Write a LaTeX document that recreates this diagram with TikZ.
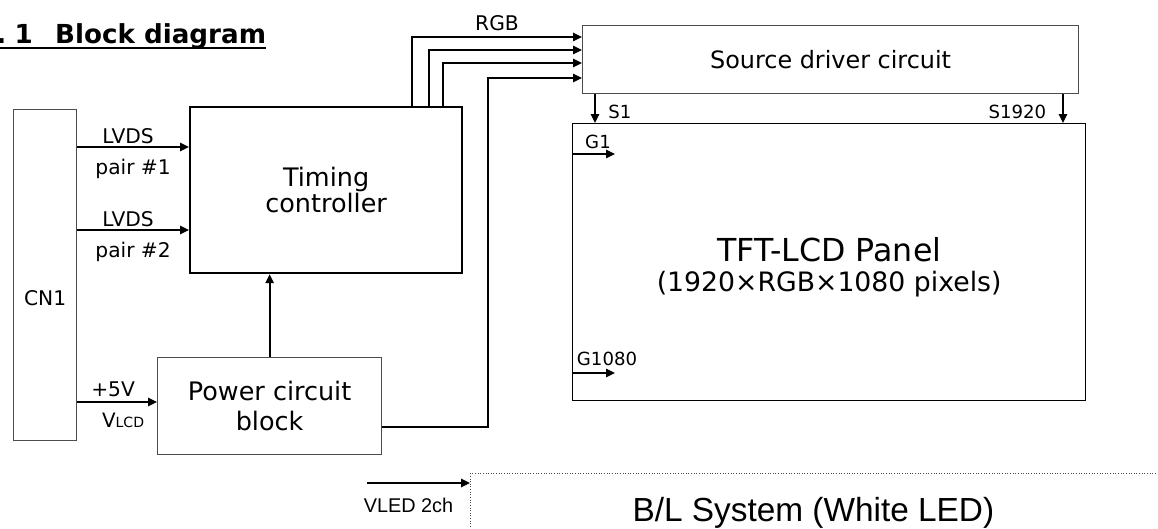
\documentclass[tikz,border=0pt]{standalone}
\usepackage{fontspec}
\setmainfont{DejaVu Sans}
\newfontfamily\narrowfont{Liberation Sans}
\usetikzlibrary{arrows.meta}

\begin{document}
\begin{tikzpicture}[x=0.02cm, y=-0.02cm,
		box/.style={draw=black!70, line width=0.7pt, inner sep=0pt, anchor=north west},
		sig/.style={line width=1.1pt, -{Triangle[length=5pt, width=4.6pt]}},
		lbl/.style={font=\fontsize{11.5}{13}\selectfont, inner sep=0pt},
		tag/.style={font=\fontsize{10.3}{12}\selectfont, inner sep=0pt}]
			%%%%% START %%%%%
			
			\useasboundingbox (0,0) rectangle (1158,528);
			\clip (0,0) rectangle (1158,528);
			
			\node[anchor=base west, inner sep=0pt, font=\fontsize{14.9}{17}\selectfont\bfseries] (title) at (-4,43) {.\hspace{0.32em}1\hspace{0.85em}Block diagram};
			\draw[line width=1.2pt] ([yshift=-2.8pt]title.base west) -- ([yshift=-2.8pt]title.base east);
			
			\node[box, minimum width=1.26cm, minimum height=6.62cm, label={[lbl, yshift=-0.46cm]center:CN1}] (cn1) at (13,109) {};
			
			\node[box, draw=black, line width=1.3pt, minimum width=5.44cm, minimum height=3.32cm, align=center, font=\fontsize{14.5}{13}\selectfont] (tcon) at (189,106) {Timing\\controller};
			
			\node[box, minimum width=4.48cm, minimum height=1.94cm, align=center, font=\fontsize{14.5}{17}\selectfont] (pwr) at (157,357) {Power circuit\\block};
			
			\node[box, minimum width=9.92cm, minimum height=1.36cm, font=\fontsize{13.6}{16}\selectfont] (src) at (582,25) {Source driver circuit};
			
			\node[box, draw=black, line width=0.8pt, minimum width=10.26cm, minimum height=5.54cm,
				label={[align=center, font=\fontsize{18}{17}\selectfont, yshift=-0.11cm]center:TFT-LCD Panel\\{\fontsize{15.2}{17}\selectfont (1920×RGB×1080 pixels)}}] (pnl) at (572,123) {};
			
			\node[box, line width=0.5pt, densely dotted, minimum width=14cm, minimum height=2cm,
				label={[font=\narrowfont\fontsize{19}{21}\selectfont, xshift=-0.14cm, yshift=0.22cm]center:B/L System (White LED)}] (bl) at (470,473) {};
			
			\coordinate (bend) at (488,78);
			\coordinate (g1end) at (615,154);
			\coordinate (g1080end) at (615,373);
			\coordinate (vled) at (367,483);
			
			\draw[sig] (cn1.east |- 0,147) -- node[lbl, above=1pt, xshift=-0.1cm] (lvdsa) {LVDS} node[lbl, below=6.5pt] (paira) {pair \#1} (tcon.west |- 0,147);
			\draw[sig] (cn1.east |- 0,230) -- node[lbl, above=1pt, xshift=-0.1cm] (lvdsb) {LVDS} node[lbl, below=6.5pt] (pairb) {pair \#2} (tcon.west |- 0,230);
			\draw[sig] (cn1.east |- 0,402) -- node[lbl, above=2.2pt, xshift=-0.08cm] (p5v) {+5V} node[below=6pt, xshift=0.12cm, inner sep=0pt] (vlcd) {\fontsize{11.3}{13}\selectfont V\fontsize{8}{10}\selectfont LCD} (pwr.west |- 0,402);
			
			\draw[sig] (pwr.north) -- (pwr.north |- tcon.south);
			
			\draw[sig] (tcon.north -| 412,0) |- node[lbl, pos=0.75, above=2.8pt] (rgb) {RGB} (src.west |- 0,37);
			\draw[sig] (tcon.north -| 429,0) |- (src.west |- 0,50);
			\draw[sig] (tcon.north -| 443,0) |- (src.west |- 0,63);
			\draw[sig] (pwr.east |- 0,427) -| (bend) -- (src.west |- bend);
			
			\draw[sig] (src.south -| 595,0) -- node[tag, pos=0.6, right=7pt] (s1) {S1} (pnl.north -| 595,0);
			\draw[sig] (src.south -| 1063,0) -- node[tag, pos=0.6, left=9pt] (s1920) {S1920} (pnl.north -| 1063,0);
			
			\draw[sig] (pnl.west |- g1end) -- node[tag, above=2.3pt, xshift=0.09cm] (g1) {G1} (g1end);
			\draw[sig] (pnl.west |- g1080end) -- node[tag, above=3.4pt, xshift=0.27cm] (g1080) {G1080} (g1080end);
			
			\draw[sig] (vled) -- node[below=8pt, xshift=-0.2cm, inner sep=0pt, font=\narrowfont\fontsize{11.3}{13}\selectfont] (vledlbl) {VLED 2ch} (bl.west |- vled);
			
			%%%%% END %%%%%
		\end{tikzpicture}
\end{document}
